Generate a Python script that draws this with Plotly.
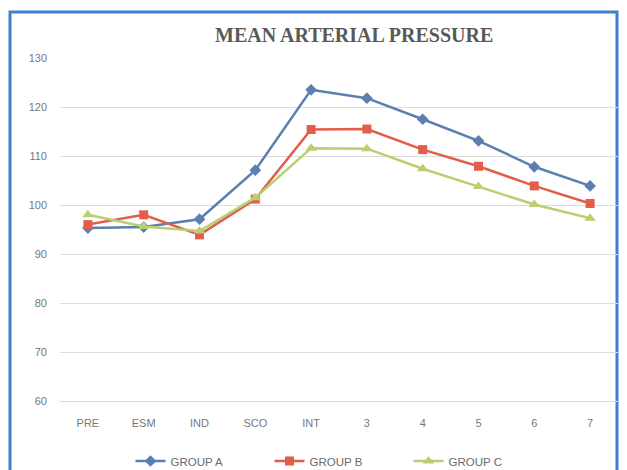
import plotly.graph_objects as go

categories = ["PRE", "ESM", "IND", "SCO", "INT", "3", "4", "5", "6", "7"]
group_a = [95.3, 95.5, 97.1, 107.1, 123.5, 121.8, 117.5, 113.1, 107.8, 103.9]
group_b = [96.0, 98.0, 93.9, 101.2, 115.4, 115.5, 111.3, 107.9, 103.9, 100.3]
group_c = [98.0, 95.6, 94.7, 101.5, 111.6, 111.5, 107.4, 103.8, 100.1, 97.3]
y_ticks = [60, 70, 80, 90, 100, 110, 120, 130]

# the page body has an 8px margin, so the figure starts at (8, 8) in the window
OFF = 8
W, H = 627 - OFF, 470 - OFF
ML, MR, MT, MB = 60 - OFF, 9, 58 - OFF, 69
pw, ph = W - ML - MR, H - MT - MB

def px_to_paper_x(px):
    return (px - OFF - ML) / pw

def px_to_paper_y(py):
    return (H - MB - (py - OFF)) / ph

fig = go.Figure()
series = [
    ("GROUP A", group_a, "#5a7fb0", "diamond", 9),
    ("GROUP B", group_b, "#e25d4a", "square", 9),
    ("GROUP C", group_c, "#b8cf72", "triangle-up", 10),
]
for name, vals, col, sym, sz in series:
    fig.add_trace(go.Scatter(
        x=categories, y=vals, name=name, mode="lines+markers",
        line=dict(color=col, width=2.5),
        marker=dict(symbol=sym, size=sz, color=col),
    ))

fig.update_layout(
    width=W, height=H,
    margin=dict(l=ML, r=MR, t=MT, b=MB, autoexpand=False),
    paper_bgcolor="white", plot_bgcolor="white",
    font=dict(family="Liberation Sans, Arial, sans-serif", size=11, color="#666666"),
    showlegend=True,
    legend=dict(orientation="h", x=0.5, xanchor="center",
                yref="container", y=1 - (461 - OFF) / H, yanchor="middle",
                font=dict(size=11.5, color="#6a6a6a"),
                itemwidth=30, entrywidth=94, entrywidthmode="pixels",
                traceorder="normal"),
    annotations=[dict(
        text="<b>MEAN ARTERIAL PRESSURE</b>", xref="paper", yref="paper",
        x=px_to_paper_x(354), y=px_to_paper_y(35), xanchor="center", yanchor="middle",
        showarrow=False,
        font=dict(family="Liberation Serif, Times New Roman, serif", size=20, color="#595959"),
    )],
    shapes=[dict(
        type="rect", xref="paper", yref="paper",
        x0=px_to_paper_x(10), x1=px_to_paper_x(617),
        y0=px_to_paper_y(480), y1=px_to_paper_y(12),
        line=dict(color="#3f7fcc", width=3), layer="below",
    )],
)
fig.update_xaxes(
    type="category", range=[-0.5, len(categories) - 0.5],
    showgrid=False, showline=True, linecolor="#d9d9d9", linewidth=1,
    ticks="", tickfont=dict(size=11, color="#777777"), ticklabelstandoff=12,
    automargin=False,
)
fig.update_yaxes(
    range=[60, 130], tickvals=y_ticks, showgrid=True, gridcolor="#dcdcdc", gridwidth=1,
    zeroline=False, showline=False, ticks="", tickfont=dict(size=11, color="#777777"),
    ticklabelstandoff=12, automargin=False,
)
fig.write_html("out.html")
